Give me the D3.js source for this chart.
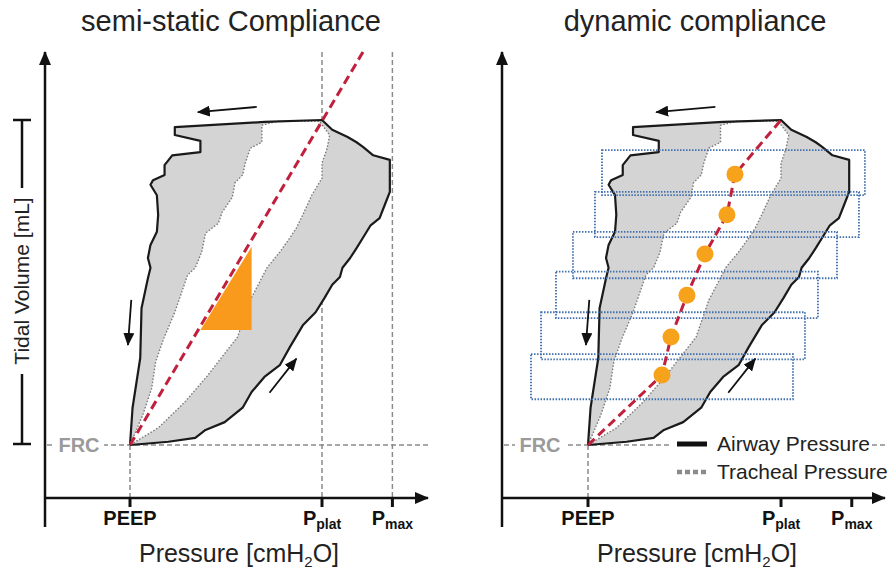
<!DOCTYPE html>
<html>
<head>
<meta charset="utf-8">
<script src="https://cdn.jsdelivr.net/npm/d3@7"></script>
<style>
  html, body { margin: 0; padding: 0; background: #fff; }
  svg { display: block; font-family: "Liberation Sans", Arial, sans-serif; }
</style>
</head>
<body>
<div id="chart"></div>
<script>
// pressure in cmH2O, volume in mL above FRC
const PEEP = 5, PPLAT = 20, PMAX = 25.5, FRC = 0, VT = 497;

const pressureTicks = [
  { label: 'PEEP', sub: '', p: PEEP },
  { label: 'P', sub: 'plat', p: PPLAT },
  { label: 'P', sub: 'max', p: PMAX }
];

// airway pressure loop (solid), inspiration then expiration
const airwayLoop = [
  [5.0, 0], [8.0, 5], [10.1, 11], [10.9, 23], [12.4, 35], [13.8, 57], [14.5, 81],
  [15.5, 104], [16.7, 122], [17.5, 150], [18.5, 183], [19.5, 203], [20.2, 225],
  [20.8, 245], [21.4, 257], [21.6, 271], [22.2, 286], [22.7, 301], [23.2, 317],
  [23.8, 336], [24.5, 347], [24.9, 367], [25.3, 387], [25.3, 436], [24.0, 443],
  [23.2, 456], [22.7, 463], [22.0, 471], [20.8, 482], [20.0, 497],
  [15.5, 494], [8.5, 486], [8.5, 474], [10.5, 465], [10.5, 448], [8.3, 443],
  [7.7, 428], [7.7, 413], [6.8, 405], [6.6, 398], [7.1, 382], [7.2, 352],
  [7.1, 326], [6.6, 306], [6.4, 286], [6.6, 271], [6.4, 255], [5.9, 209],
  [5.8, 133], [5.2, 57], [5.0, 0]
];

// tracheal pressure loop (dotted)
const trachealLoop = [
  [5.0, 0], [6.0, 46], [6.7, 87], [7.0, 127], [7.6, 161], [8.5, 203], [9.5, 260],
  [10.1, 271], [10.6, 295], [10.9, 324], [11.9, 339], [12.2, 356], [13.0, 379],
  [13.2, 401], [13.8, 413], [14.0, 431], [14.4, 454], [15.3, 463], [15.3, 489],
  [16.5, 495], [19.8, 495], [20.6, 474], [20.4, 454], [20.0, 431], [20.0, 408],
  [19.2, 382], [18.5, 352], [18.0, 332], [17.5, 317], [16.7, 295], [15.7, 271],
  [15.2, 252], [14.4, 222], [13.4, 165], [12.2, 135], [11.1, 107], [9.3, 66],
  [7.2, 26], [5.0, 0]
];

const staticLine = [[5.0, 0], [23.2, 601]];
const staticTriangle = [[10.5, 176], [14.5, 176], [14.5, 303]];

// dynamic compliance points and their sampling windows [pLow, pHigh, vLow, vHigh]
const dynamicPoints = [[10.75, 107], [11.45, 165], [12.69, 229], [14.09, 292], [15.80, 352], [16.42, 414]];
const dynamicWindows = [
  [0.57, 20.93, 70, 139],
  [1.35, 21.86, 131, 203],
  [2.51, 22.87, 194, 265],
  [3.83, 24.35, 255, 326],
  [5.54, 26.06, 318, 387],
  [6.09, 26.52, 382, 451]
];

// flow arrows [from, to]
const flowArrows = [
  [[14.9, 517], [10.3, 509]],
  [[5.1, 222], [4.84, 153]],
  [[15.9, 80], [18.0, 132]]
];

const legendItems = [
  { label: 'Airway Pressure', type: 'solid' },
  { label: 'Tracheal Pressure', type: 'dotted' }
];

const panels = [
  { title: 'semi-static Compliance', axisX: 45, xRange: [130, 322], titleX: 231, kind: 'static' },
  { title: 'dynamic compliance', axisX: 502, xRange: [588, 781], titleX: 695, kind: 'dynamic' }
];

const W = 891, H = 572;
const axisY = 498, axisTop = 52, axisBottom = 527, axisLen = 383;

const svg = d3.select('#chart').append('svg')
  .attr('width', W).attr('height', H).attr('viewBox', `0 0 ${W} ${H}`);

const defs = svg.append('defs');
defs.append('marker')
  .attr('id', 'axis-head')
  .attr('markerUnits', 'userSpaceOnUse')
  .attr('markerWidth', 14).attr('markerHeight', 12)
  .attr('refX', 13).attr('refY', 6)
  .attr('orient', 'auto')
  .append('path').attr('d', 'M0,0 L14,6 L0,12 Z').attr('fill', '#111');
defs.append('marker')
  .attr('id', 'flow-head')
  .attr('markerUnits', 'userSpaceOnUse')
  .attr('markerWidth', 13).attr('markerHeight', 11)
  .attr('refX', 12).attr('refY', 5.5)
  .attr('orient', 'auto')
  .append('path').attr('d', 'M0,0 L13,5.5 L0,11 Z').attr('fill', '#111');

const y = d3.scaleLinear().domain([FRC, VT]).range([445, 120]);

panels.forEach(panel => {
  const x = d3.scaleLinear().domain([PEEP, PPLAT]).range(panel.xRange);
  const g = svg.append('g');
  const line = d3.line().x(d => x(d[0])).y(d => y(d[1]));
  const x0 = panel.axisX;

  // title
  g.append('text')
    .attr('x', panel.titleX).attr('y', 31)
    .attr('text-anchor', 'middle')
    .attr('font-size', 29)
    .attr('fill', '#222')
    .text(panel.title);

  // reference lines
  const refStyle = sel => sel.attr('stroke', '#8a8a8a').attr('stroke-width', 1.5)
    .attr('stroke-dasharray', '5,3').attr('fill', 'none');
  g.append('line').call(refStyle)
    .attr('x1', x0 + 2).attr('x2', x0 + axisLen).attr('y1', y(FRC)).attr('y2', y(FRC));
  g.append('line').call(refStyle)
    .attr('x1', x(PEEP)).attr('x2', x(PEEP)).attr('y1', y(FRC)).attr('y2', axisY);
  if (panel.kind === 'static') {
    [PPLAT, PMAX].forEach(p => {
      g.append('line').call(refStyle)
        .attr('x1', x(p)).attr('x2', x(p)).attr('y1', axisTop).attr('y2', axisY);
    });
  }

  // FRC label
  const frcX = panel.kind === 'static' ? x0 + 34 : x0 + 38;
  g.append('rect').attr('x', frcX - 25).attr('y', y(FRC) - 11).attr('width', 50).attr('height', 22).attr('fill', '#fff');
  g.append('text')
    .attr('x', frcX).attr('y', y(FRC) + 7)
    .attr('text-anchor', 'middle')
    .attr('font-size', 20).attr('font-weight', 'bold')
    .attr('fill', '#9a9a9a')
    .text('FRC');

  // loops
  g.append('path').attr('d', line(airwayLoop)).attr('fill', '#d4d4d4').attr('stroke', 'none');
  g.append('path').attr('d', line(trachealLoop)).attr('fill', '#fff')
    .attr('stroke', '#7a7a7a').attr('stroke-width', 1.4).attr('stroke-dasharray', '1.5,1.8');
  g.append('path').attr('d', line(airwayLoop)).attr('fill', 'none')
    .attr('stroke', '#1a1a1a').attr('stroke-width', 2.2).attr('stroke-linejoin', 'round');

  if (panel.kind === 'static') {
    g.append('path').attr('d', line(staticTriangle) + 'Z').attr('fill', '#f99a1c');
    g.append('path').attr('d', line(staticLine)).attr('fill', 'none')
      .attr('stroke', '#c0203c').attr('stroke-width', 3).attr('stroke-dasharray', '9,5');
  } else {
    g.selectAll('rect.window').data(dynamicWindows).join('rect')
      .attr('class', 'window')
      .attr('x', d => x(d[0])).attr('width', d => x(d[1]) - x(d[0]))
      .attr('y', d => y(d[3])).attr('height', d => y(d[2]) - y(d[3]))
      .attr('fill', 'none').attr('stroke', '#3f6fae').attr('stroke-width', 1.8)
      .attr('stroke-dasharray', '1.5,1.5');
    const path = [[PEEP, FRC]].concat(dynamicPoints, [[PPLAT, VT]]);
    g.append('path').attr('d', line(path)).attr('fill', 'none')
      .attr('stroke', '#c0203c').attr('stroke-width', 3).attr('stroke-dasharray', '9,5');
    g.selectAll('circle.pt').data(dynamicPoints).join('circle')
      .attr('class', 'pt')
      .attr('cx', d => x(d[0])).attr('cy', d => y(d[1])).attr('r', 8.5)
      .attr('fill', '#f7a21b');
  }

  // flow arrows
  flowArrows.forEach(a => {
    g.append('line')
      .attr('x1', x(a[0][0])).attr('y1', y(a[0][1]))
      .attr('x2', x(a[1][0])).attr('y2', y(a[1][1]))
      .attr('stroke', '#111').attr('stroke-width', 1.8)
      .attr('marker-end', 'url(#flow-head)');
  });

  // axes
  g.append('line')
    .attr('x1', x0).attr('x2', x0).attr('y1', axisBottom).attr('y2', axisTop)
    .attr('stroke', '#111').attr('stroke-width', 2.5).attr('marker-end', 'url(#axis-head)');
  g.append('line')
    .attr('x1', x0).attr('x2', x0 + axisLen).attr('y1', axisY).attr('y2', axisY)
    .attr('stroke', '#111').attr('stroke-width', 2.5).attr('marker-end', 'url(#axis-head)');

  const tick = g.selectAll('g.tick').data(pressureTicks).join('g')
    .attr('class', 'tick')
    .attr('transform', d => `translate(${x(d.p)},0)`);
  tick.append('line').attr('y1', axisY).attr('y2', axisY + 9)
    .attr('stroke', '#111').attr('stroke-width', 3);
  const tt = tick.append('text')
    .attr('y', axisY + 27)
    .attr('text-anchor', 'middle')
    .attr('font-weight', 'bold').attr('font-size', 20).attr('fill', '#111');
  tt.append('tspan').text(d => d.label);
  tt.append('tspan').attr('font-size', 14).attr('dy', 4).text(d => d.sub);

  // x label
  const xl = g.append('text')
    .attr('x', panel.kind === 'static' ? 239 : 697).attr('y', 562)
    .attr('text-anchor', 'middle').attr('font-size', 25).attr('fill', '#222');
  xl.append('tspan').text('Pressure [cmH');
  xl.append('tspan').attr('font-size', 15).attr('dy', 5).text('2');
  xl.append('tspan').attr('dy', -5).text('O]');

  if (panel.kind === 'static') {
    // tidal volume scale bar
    const bx = 22;
    const bar = g.append('g').attr('stroke', '#111').attr('stroke-width', 2.5);
    bar.append('line').attr('x1', bx).attr('x2', bx).attr('y1', y(VT)).attr('y2', 188);
    bar.append('line').attr('x1', bx).attr('x2', bx).attr('y1', 374).attr('y2', y(FRC) - 1);
    bar.append('line').attr('x1', bx - 9).attr('x2', bx + 9).attr('y1', y(VT)).attr('y2', y(VT));
    bar.append('line').attr('x1', bx - 9).attr('x2', bx + 9).attr('y1', y(FRC) - 1).attr('y2', y(FRC) - 1);
    g.append('text')
      .attr('transform', `translate(${bx + 7},281) rotate(-90)`)
      .attr('text-anchor', 'middle').attr('font-size', 21).attr('fill', '#222')
      .text('Tidal Volume [mL]');
  } else {
    // legend
    const lx = 677;
    g.append('rect').attr('x', lx - 5).attr('y', 433).attr('width', 198).attr('height', 24).attr('fill', '#fff');
    const item = g.selectAll('g.legend').data(legendItems).join('g')
      .attr('class', 'legend')
      .attr('transform', (d, i) => `translate(${lx},${444 + i * 28})`);
    item.append('line').attr('x1', 0).attr('x2', 30)
      .attr('stroke', d => d.type === 'solid' ? '#111' : '#8a8a8a')
      .attr('stroke-width', d => d.type === 'solid' ? 5 : 4.5)
      .attr('stroke-dasharray', d => d.type === 'solid' ? null : '5,3');
    item.append('text').attr('x', 40).attr('y', 7)
      .attr('font-size', 21).attr('fill', '#222')
      .text(d => d.label);
  }
});
</script>
</body>
</html>
